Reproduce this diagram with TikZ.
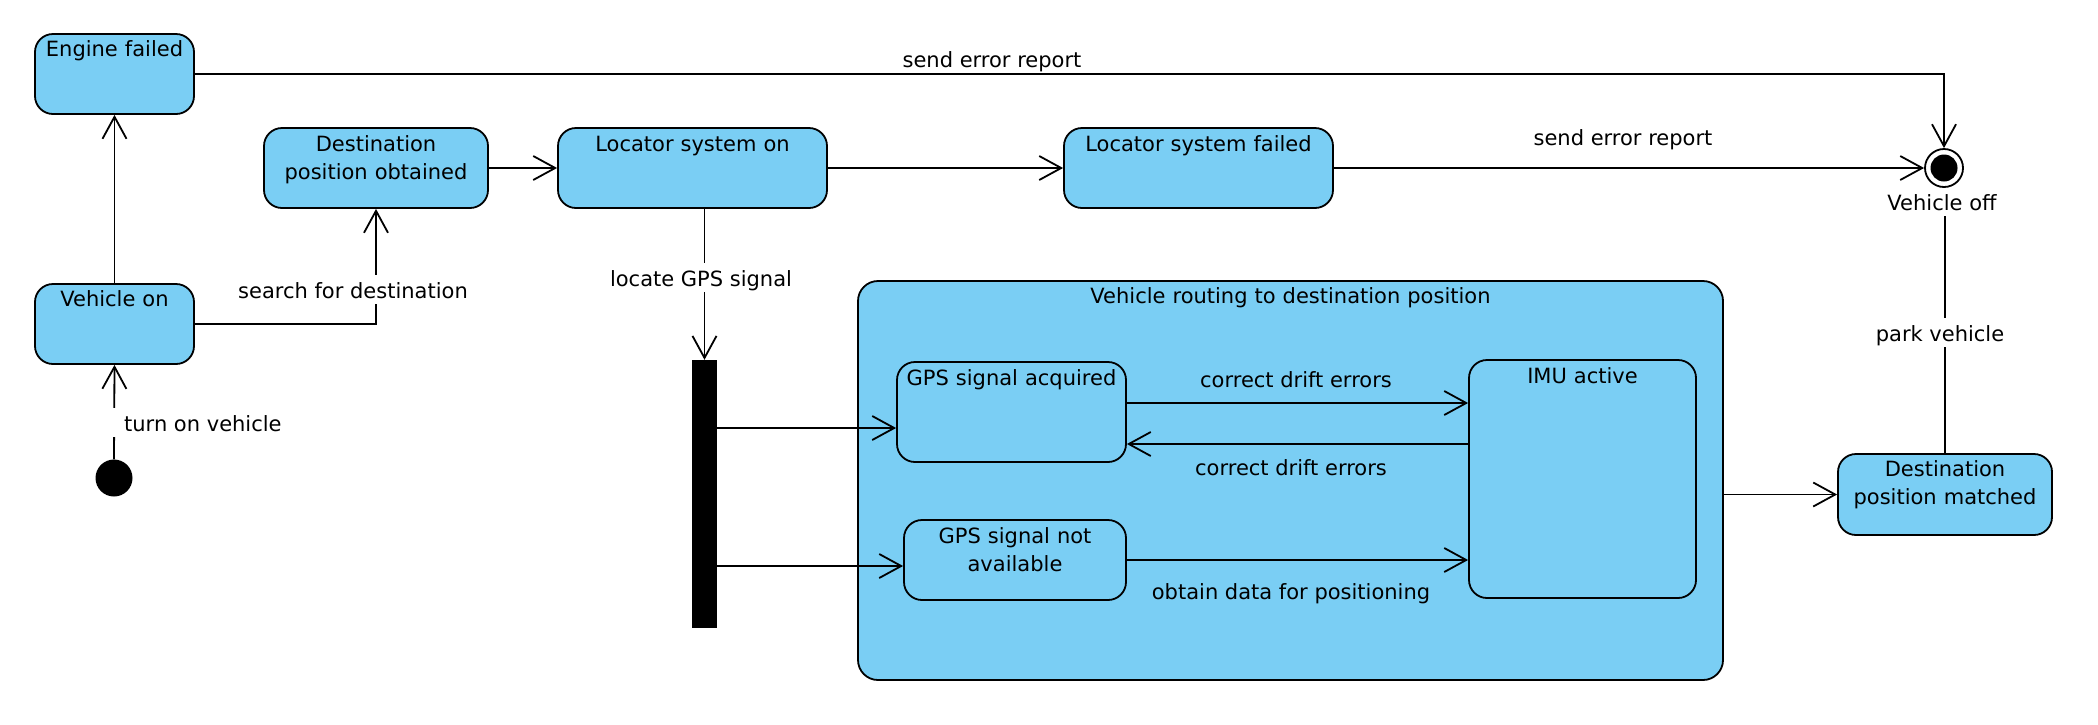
\documentclass[tikz,border=0pt]{standalone}
\usepackage{fontspec}
\setmainfont{DejaVu Sans}
\usetikzlibrary{arrows.meta}
\definecolor{stfill}{RGB}{122,206,244}
\begin{document}
\begin{tikzpicture}[x=1pt,y=-1pt,
  every node/.style={font=\fontsize{21}{28}\selectfont},
  st/.style={draw, fill=stfill, line width=1.8pt, rounded corners=18pt, align=center, inner sep=0pt},
  lab/.style={inner xsep=3pt, inner ysep=0pt, anchor=base},
  gaplab/.style={lab, fill=white, text height=23pt, text depth=6pt},
  conn/.style={line width=1.8pt},
  arr/.style={conn, -{Straight Barb[length=22pt,width=24pt]}},
]
\useasboundingbox (0,0) rectangle (2098,724);

% states
\node[st, text width=159pt, text height=22pt, text depth=58pt] (eng) at (114.5,74) {Engine failed};
\node[st, text width=159pt, text height=22pt, text depth=58pt] (von) at (114.5,324) {Vehicle on};
\node[st, text width=224pt, text height=23pt, text depth=57pt] (dpo) at (376,168) {Destination\\position obtained};
\node[st, text width=269pt, text height=23pt, text depth=57pt] (lso) at (692.5,168) {Locator system on};
\node[st, text width=269pt, text height=23pt, text depth=57pt] (lsf) at (1198.5,168) {Locator system failed};
\node[st, rounded corners=20pt, text width=865pt, text height=22pt, text depth=377pt] (route) at (1290.5,480.5) {Vehicle routing to destination position};
\node[st, text width=229pt, text height=23pt, text depth=77pt] (gpsa) at (1011.5,412) {GPS signal acquired};
\node[st, text width=222pt, text height=23pt, text depth=57pt] (gpsn) at (1015,560) {GPS signal not\\available};
\node[st, text width=227pt, text height=23pt, text depth=215pt] (imu) at (1582.5,479) {IMU active};
\node[st, text width=214pt, text height=22pt, text depth=59pt] (dpm) at (1945,494.5) {Destination\\position matched};

% pseudo states
\node[circle, fill=black, minimum size=37pt, inner sep=0pt] (init) at (114,478) {};
\node[circle, draw, fill=white, line width=1.8pt, minimum size=38pt, inner sep=0pt,
  path picture={\fill[black] (path picture bounding box.center) circle (13.5pt);}] (fin) at (1944,168) {};
\node[lab, text depth=6pt] (voff) at (1942,210) {Vehicle off};
\node[fill=black, minimum width=25pt, minimum height=268pt, inner sep=0pt] (bar) at (704.5,494) {};

% helper coordinates
\coordinate (g1) at ([yshift=-16pt]gpsa.west);
\coordinate (g2) at ([yshift=-6pt]gpsn.west);
\coordinate (c1) at ([yshift=9pt]gpsa.east);
\coordinate (c2) at ([yshift=-32pt]gpsa.east);

% transitions
\draw[arr] (init.north) -- (von.south);
\draw[arr] (von.north) -- (eng.south);
\draw[arr] (von.east) -| (dpo.south);
\draw[arr] (dpo.east) -- (lso.west);
\draw[arr] (lso.east) -- (lsf.west);
\draw[arr] (lsf.east) -- (fin.west);
\draw[arr] (eng.east) -| (fin.north);
\draw[arr] (bar.north |- lso.south) -- (bar.north);
\draw[arr] (g1 -| bar.east) -- (g1);
\draw[arr] (g2 -| bar.east) -- (g2);
\draw[arr] (c1) -- (c1 -| imu.west);
\draw[arr] (c2 -| imu.west) -- (c2);
\draw[arr] (gpsn.east) -- (gpsn.east -| imu.west);
\draw[arr] (dpm.west -| route.east) -- (dpm.west);
\draw[conn] (dpm.north) -- (dpm.north |- voff.south);

% transition labels
\node[gaplab, anchor=base west, inner xsep=16pt] at (108,431) {turn on vehicle};
\node[gaplab] at (353,298) {search for destination};
\node[gaplab] at (701,286) {locate GPS signal};
\node[gaplab] at (1940,341) {park vehicle};
\node[lab] at (992,67) {send error report};
\node[lab] at (1623,145) {send error report};
\node[lab, fill=stfill] at (1296,387) {correct drift errors};
\node[lab, fill=stfill] at (1291,475) {correct drift errors};
\node[lab, fill=stfill] at (1291,599) {obtain data for positioning};
\end{tikzpicture}
\end{document}
